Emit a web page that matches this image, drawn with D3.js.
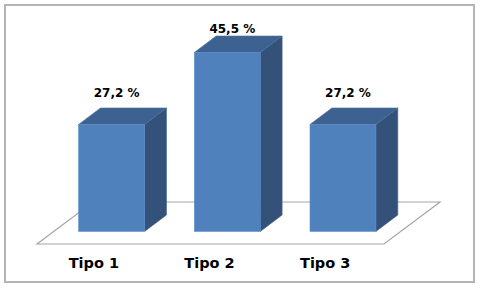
<!DOCTYPE html>
<html>
<head>
<meta charset="utf-8">
<script src="https://cdn.jsdelivr.net/npm/d3@7"></script>
<style>
  body { margin: 0; background: #fff; }
  svg { display: block; }
</style>
</head>
<body>
<svg id="chart" width="480" height="288"></svg>
<script>
const categories = ["Tipo 1", "Tipo 2", "Tipo 3"];
const values = [27.2, 45.5, 27.2];
const valueLabels = ["27,2 %", "45,5 %", "27,2 %"];

const svg = d3.select("#chart");
const W = 480, H = 288;

// outer frame
svg.append("rect")
    .attr("x", 5).attr("y", 5)
    .attr("width", W - 11).attr("height", H - 11)
    .attr("fill", "#fff")
    .attr("stroke", "#b4b4b4")
    .attr("stroke-width", 2);

// floor geometry (front edge + depth vector)
const floor = { x0: 37, x1: 384, y: 244, dx: 56, dy: -42 };
const barDepthPos = 0.3;   // where bars sit inside the floor depth
const barDepth = 0.39;     // depth of the bar boxes

const x = d3.scaleBand()
    .domain(categories)
    .range([floor.x0, floor.x1])
    .paddingInner(0.43)
    .paddingOuter(0.215);

const baseY = floor.y + floor.dy * barDepthPos;
const y = d3.scaleLinear()
    .domain([0, 50])
    .range([baseY, baseY - 196.7]);

// floor
svg.append("path")
    .attr("d", d3.line()([
        [floor.x0, floor.y], [floor.x1, floor.y],
        [floor.x1 + floor.dx, floor.y + floor.dy], [floor.x0 + floor.dx, floor.y + floor.dy]
    ]) + "Z")
    .attr("fill", "#fff")
    .attr("stroke", "#a6a6a6")
    .attr("stroke-width", 1.2);

const ox = floor.dx * barDepthPos, ddx = floor.dx * barDepth, ddy = floor.dy * barDepth;

const bars = svg.append("g").selectAll("g")
    .data(categories.map((c, i) => ({ c, v: values[i], label: valueLabels[i] })))
    .join("g");

// side face
bars.append("path")
    .attr("d", d => {
        const xr = x(d.c) + ox + x.bandwidth();
        return d3.line()([[xr, y(0)], [xr, y(d.v)], [xr + ddx, y(d.v) + ddy], [xr + ddx, y(0) + ddy]]) + "Z";
    })
    .attr("fill", "#345279")
    .attr("stroke", "#3b5c87")
    .attr("stroke-width", 0.6);

// top face
bars.append("path")
    .attr("d", d => {
        const xl = x(d.c) + ox, xr = xl + x.bandwidth(), yt = y(d.v);
        return d3.line()([[xl, yt], [xr, yt], [xr + ddx, yt + ddy], [xl + ddx, yt + ddy]]) + "Z";
    })
    .attr("fill", "#3d6291")
    .attr("stroke", "#4a6f9c")
    .attr("stroke-width", 0.6);

// front face
bars.append("rect")
    .attr("x", d => x(d.c) + ox)
    .attr("y", d => y(d.v))
    .attr("width", x.bandwidth())
    .attr("height", d => y(0) - y(d.v))
    .attr("fill", "#4f81bd")
    .attr("stroke", "#5b8cc6")
    .attr("stroke-width", 0.6);

// value labels
bars.append("text")
    .attr("x", d => x(d.c) + ox + x.bandwidth() / 2 + 5)
    .attr("y", d => Math.max(y(d.v) + ddy - 11, 33))
    .attr("text-anchor", "middle")
    .attr("font-family", "DejaVu Sans, Verdana, sans-serif")
    .attr("font-weight", "bold")
    .attr("font-size", 12)
    .attr("fill", "#000")
    .text(d => d.label);

// category labels
svg.append("g").selectAll("text")
    .data(categories)
    .join("text")
    .attr("x", d => x(d) + x.bandwidth() / 2 - 1)
    .attr("y", 268)
    .attr("text-anchor", "middle")
    .attr("font-family", "DejaVu Sans, Verdana, sans-serif")
    .attr("font-weight", "bold")
    .attr("font-size", 14.5)
    .attr("fill", "#000")
    .text(d => d);
</script>
</body>
</html>
